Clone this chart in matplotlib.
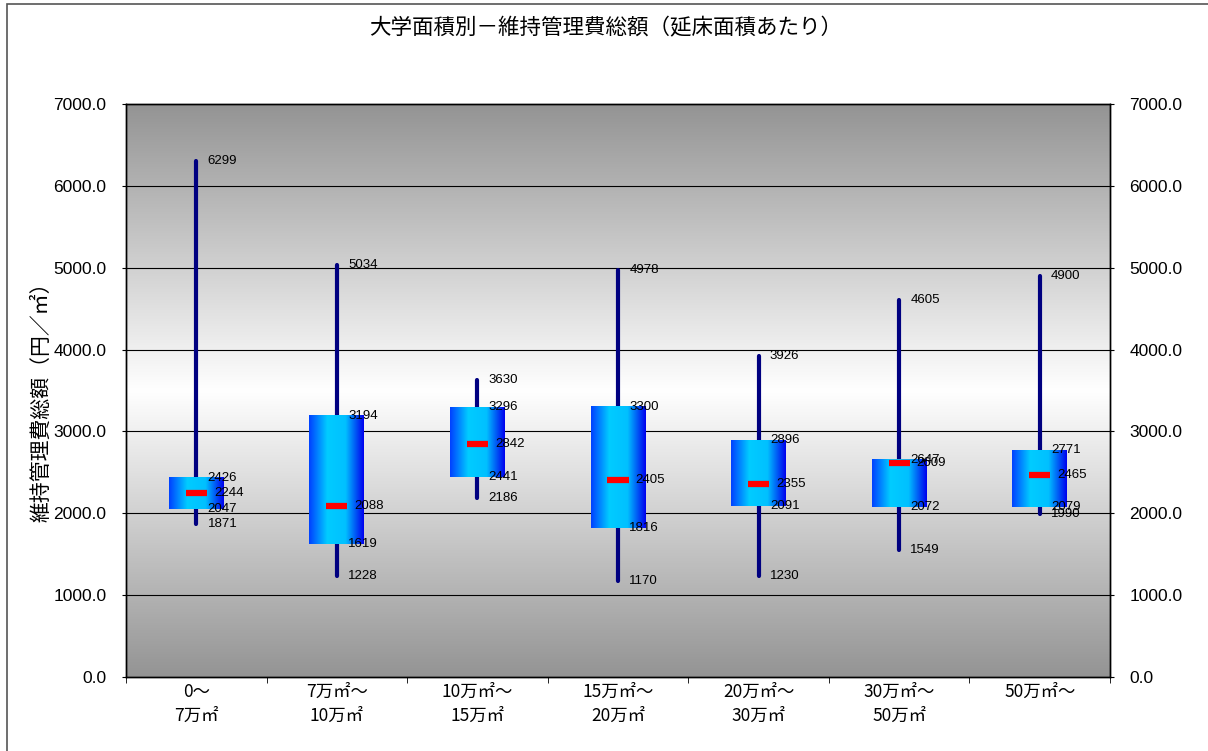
import numpy as np
import matplotlib
matplotlib.use('Agg')
import matplotlib.pyplot as plt
from matplotlib.colors import LinearSegmentedColormap
from matplotlib.patches import Rectangle

plt.rcParams['font.family'] = ['Noto Sans CJK JP', 'DejaVu Sans']

# data: one box per campus-area class
categories = ['0～\n7万㎡', '7万㎡～\n10万㎡', '10万㎡～\n15万㎡', '15万㎡～\n20万㎡',
              '20万㎡～\n30万㎡', '30万㎡～\n50万㎡', '50万㎡～']
max_vals = [6299, 5034, 3630, 4978, 3926, 4605, 4900]
q3_vals = [2426, 3194, 3296, 3300, 2896, 2647, 2771]
med_vals = [2244, 2088, 2842, 2405, 2355, 2609, 2465]
q1_vals = [2047, 1619, 2441, 1816, 2091, 2072, 2079]
min_vals = [1871, 1228, 2186, 1170, 1230, 1549, 1990]

title = '大学面積別－維持管理費総額（延床面積あたり）'
ylabel = '維持管理費総額（円／㎡）'

num_font = ['Liberation Sans', 'DejaVu Sans']

fig = plt.figure(figsize=(12.08, 7.51), dpi=100)
ax = fig.add_axes([126 / 1208, 1 - 677 / 751, 984 / 1208, 573 / 751])

n = len(categories)
ymax = 7000

# gray background, white in the middle
t = np.linspace(0, 1, 256)
shade = 1 - 0.42 * np.abs(t - 0.5) * 2
bg = np.dstack([shade, shade, shade]).reshape(256, 1, 3)
ax.imshow(bg, extent=[0, n, 0, ymax], aspect='auto', origin='lower', zorder=0)

# grid lines
for yv in range(1000, ymax, 1000):
    ax.axhline(yv, color='black', lw=0.8, zorder=1)

box_cmap = LinearSegmentedColormap.from_list(
    'box', ['#0040ff', '#00ccff', '#00c0ff', '#0000ee'], N=256)
grad = np.linspace(0, 1, 256).reshape(1, -1)

box_w = 0.39
med_w = 0.15
fs_lab = 9.5
dx = 0.08
for i in range(n):
    xc = i + 0.5
    ax.plot([xc, xc], [min_vals[i], max_vals[i]], color='#000080', lw=3,
            solid_capstyle='round', zorder=2)
    ax.imshow(grad, cmap=box_cmap, extent=[xc - box_w / 2, xc + box_w / 2,
                                           q1_vals[i], q3_vals[i]],
              aspect='auto', zorder=3)
    ax.plot([xc - med_w / 2, xc + med_w / 2], [med_vals[i], med_vals[i]],
            color='red', lw=4.5, solid_capstyle='butt', zorder=4)
    for v in (max_vals[i], q3_vals[i], q1_vals[i], min_vals[i]):
        ax.text(xc + dx, v, str(v), fontsize=fs_lab, va='center', ha='left',
                family=num_font, zorder=5)
    ax.text(xc + 0.125, med_vals[i], str(med_vals[i]), fontsize=fs_lab,
            va='center', ha='left', family=num_font, zorder=5)

ax.set_xlim(0, n)
ax.set_ylim(0, ymax)

# x axis: labels at centres, ticks at boundaries
ax.set_xticks(np.arange(n) + 0.5)
ax.set_xticklabels(categories, fontsize=12.5, linespacing=1.45)
ax.tick_params(axis='x', which='major', length=0, pad=4)
ax.set_xticks(np.arange(n + 1), minor=True)
ax.tick_params(axis='x', which='minor', length=4, direction='out')

yt = np.arange(0, ymax + 1, 1000)
ax.set_yticks(yt)
ax.set_yticklabels(['%.1f' % v for v in yt], fontsize=12.5, family=num_font)
ax.tick_params(axis='y', length=3, direction='out', pad=11)

ax2 = ax.twinx()
ax2.set_ylim(0, ymax)
ax2.set_yticks(yt)
ax2.set_yticklabels(['%.1f' % v for v in yt], fontsize=12.5, family=num_font)
ax2.tick_params(axis='y', length=3, direction='out', pad=11)

for a in (ax, ax2):
    for s in a.spines.values():
        s.set_linewidth(1.0)
        s.set_color('black')

fig.text(41 / 1208, 1 - 397 / 751, ylabel, fontsize=15, rotation=90,
         ha='center', va='center')
fig.text(606 / 1208, 1 - 28 / 751, title, fontsize=15.5, ha='center', va='center')

# outer frame of the chart area
fig.patches.append(Rectangle((7 / 1208, -0.1), 1.2, 1 - 4 / 751 + 0.1,
                             transform=fig.transFigure, fill=False,
                             edgecolor='#555555', lw=1.2))

fig.savefig('out.png', dpi=100)
